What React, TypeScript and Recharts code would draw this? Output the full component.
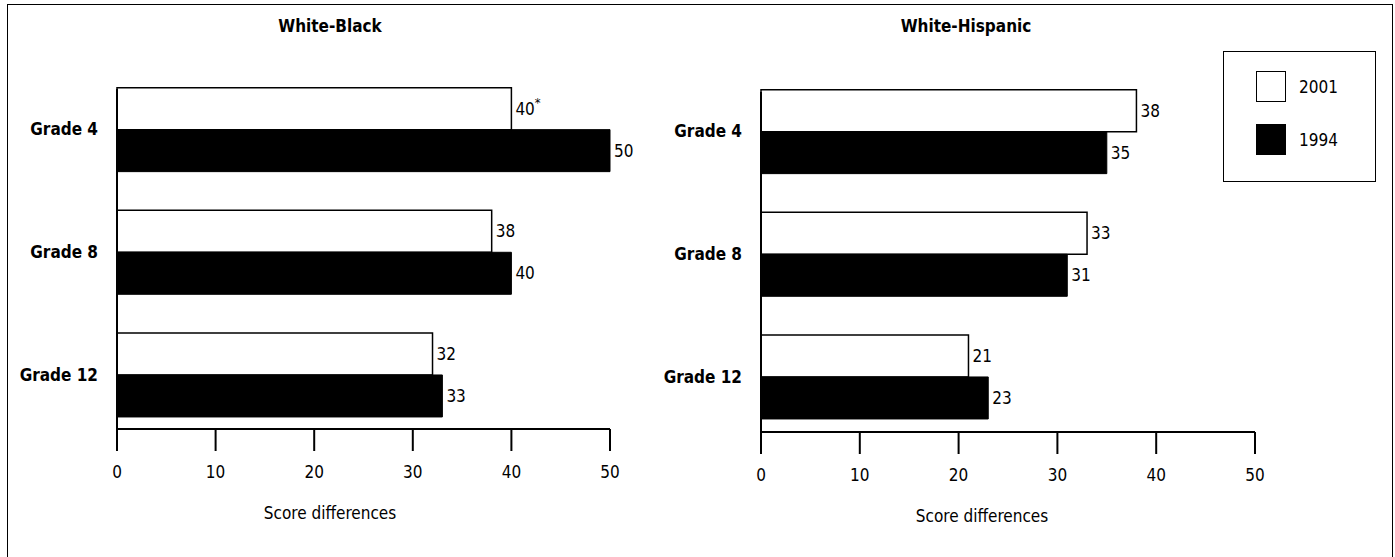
import React from 'react';
import { BarChart, Bar, XAxis, YAxis, LabelList } from 'recharts';

const categories = ['Grade 4', 'Grade 8', 'Grade 12'];
const whiteBlack2001 = [40, 38, 32];
const whiteBlack1994 = [50, 40, 33];
const whiteBlackMarks = ['*', '', ''];
const whiteHispanic2001 = [38, 33, 21];
const whiteHispanic1994 = [35, 31, 23];
const whiteHispanicMarks = ['', '', ''];
const xTicks = [0, 10, 20, 30, 40, 50];
const seriesNames = ['2001', '1994'];
const panelTitles = ['White-Black', 'White-Hispanic'];
const axisTitle = 'Score differences';

const FONT = '"Liberation Sans Narrow", "DejaVu Sans Condensed", "Arial Narrow", sans-serif';

type Geo = {
  left: number; width: number;
  plotLeft: number; plotRight: number; plotTop: number; plotBottom: number;
  bandTop: number; bandBottom: number; titleX: number; axisTitleX: number;
};

const YW = 100;
const XH = 110;

function Panel({ title, v2001, v1994, marks, geo }: { title: string; v2001: number[]; v1994: number[]; marks: string[]; geo: Geo }) {
  const data = categories.map((c, i) => ({ category: c, y2001: v2001[i], y1994: v1994[i], mark: marks[i] }));
  const H = 557;
  const margin = {
    top: geo.plotTop,
    right: geo.width - geo.plotRight,
    left: geo.plotLeft - YW,
    bottom: H - geo.plotBottom - XH,
  };
  const plotCenter = (geo.plotLeft + geo.plotRight) / 2;
  const renderMarkLabel = (props: any) => {
    const { x, y, width, height, value, index } = props;
    const m = data[index] ? data[index].mark : '';
    return (
      <text x={x + width + 4} y={y + height / 2} dominantBaseline="central" fontFamily={FONT} fontSize={17} fill="#000">
        {value}
        {m ? <tspan dy={-7} fontSize={13}>{m}</tspan> : null}
      </text>
    );
  };
  return (
    <div style={{ position: 'absolute', left: geo.left, top: 0, width: geo.width, height: H }}>
      <div style={{ position: 'absolute', left: geo.titleX - 100, top: 16, width: 200, textAlign: 'center', fontFamily: FONT, fontWeight: 'bold', fontSize: 17, color: '#000' }}>{title}</div>
      <BarChart width={geo.width} height={H} data={data} layout="vertical" margin={margin} barGap={0} barCategoryGap="16%">
        <XAxis
          type="number"
          domain={[0, 50]}
          ticks={xTicks}
          interval={0}
          height={XH}
          axisLine={{ stroke: '#000', strokeWidth: 2 }}
          tickLine={{ stroke: '#000', strokeWidth: 2 }}
          tickSize={22}
          tickMargin={15}
          tick={{ fill: '#000', fontFamily: FONT, fontSize: 17 }}
          label={{ value: axisTitle, position: 'insideBottom', offset: 20, dx: geo.axisTitleX - plotCenter, fill: '#000', fontFamily: FONT, fontSize: 17 }}
        />
        <YAxis
          type="category"
          dataKey="category"
          width={YW}
          padding={{ top: geo.bandTop - geo.plotTop, bottom: geo.plotBottom - geo.bandBottom }}
          axisLine={{ stroke: '#000', strokeWidth: 2 }}
          tickLine={false}
          tickSize={0}
          tickMargin={19}
          tick={{ fill: '#000', fontFamily: FONT, fontSize: 17, fontWeight: 'bold' }}
        />
        <Bar dataKey="y2001" name={seriesNames[0]} fill="#fff" stroke="#000" strokeWidth={1.5} isAnimationActive={false}>
          <LabelList dataKey="y2001" content={renderMarkLabel} />
        </Bar>
        <Bar dataKey="y1994" name={seriesNames[1]} fill="#000" stroke="#000" strokeWidth={1} isAnimationActive={false}>
          <LabelList dataKey="y1994" position="right" offset={4} fill="#000" fontFamily={FONT} fontSize={17} />
        </Bar>
      </BarChart>
    </div>
  );
}

function LegendBox() {
  return (
    <div style={{ position: 'absolute', left: 1223, top: 51, width: 153, height: 131, border: '1.5px solid #000', boxSizing: 'border-box', fontFamily: FONT, fontSize: 17, color: '#000' }}>
      {seriesNames.map((n, i) => (
        <div key={n} style={{ position: 'absolute', left: 32, top: 19 + i * 53, height: 31, display: 'flex', alignItems: 'center' }}>
          <div style={{ width: 30, height: 31, boxSizing: 'border-box', border: '1.5px solid #000', background: i === 0 ? '#fff' : '#000' }} />
          <span style={{ marginLeft: 13 }}>{n}</span>
        </div>
      ))}
    </div>
  );
}

export default function App() {
  const leftGeo: Geo = { left: 0, width: 700, plotLeft: 117, plotRight: 610, plotTop: 89, plotBottom: 429, bandTop: 68, bandBottom: 436, titleX: 330, axisTitleX: 330 };
  const rightGeo: Geo = { left: 0, width: 1395, plotLeft: 761, plotRight: 1255, plotTop: 92, plotBottom: 432, bandTop: 70, bandBottom: 438, titleX: 966, axisTitleX: 982 };
  return (
    <div style={{ position: 'absolute', left: 0, top: 0, width: 1395, height: 557, overflow: 'hidden', background: '#fff' }}>
      <div style={{ position: 'absolute', left: 7, top: 4, width: 1386, height: 620, border: '1.5px solid #000', boxSizing: 'border-box' }} />
      <Panel title={panelTitles[0]} v2001={whiteBlack2001} v1994={whiteBlack1994} marks={whiteBlackMarks} geo={leftGeo} />
      <Panel title={panelTitles[1]} v2001={whiteHispanic2001} v1994={whiteHispanic1994} marks={whiteHispanicMarks} geo={rightGeo} />
      <LegendBox />
    </div>
  );
}
